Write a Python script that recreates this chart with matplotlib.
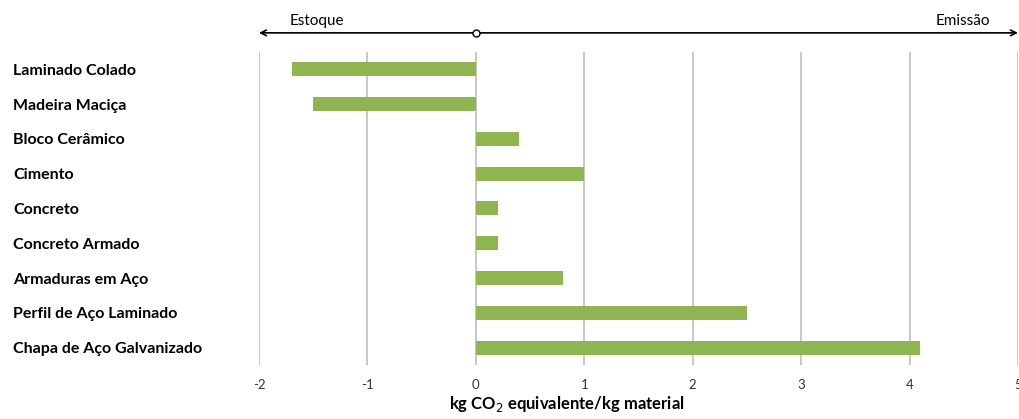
import matplotlib
matplotlib.use("Agg")
import matplotlib.pyplot as plt

plt.rcParams['font.family'] = ['Lato', 'DejaVu Sans']

materials = ["Laminado Colado", "Madeira Maciça", "Bloco Cerâmico", "Cimento",
             "Concreto", "Concreto Armado", "Armaduras em Aço",
             "Perfil de Aço Laminado", "Chapa de Aço Galvanizado"]
values = [-1.7, -1.5, 0.4, 1.0, 0.2, 0.2, 0.8, 2.5, 4.1]
xticks = [-2, -1, 0, 1, 2, 3, 4, 5]

fig = plt.figure(figsize=(10.2, 4.19), dpi=100)
ax = fig.add_axes([0.2539, 0.129, 0.7441, 0.747])

pos = list(range(len(materials)))
ax.barh(pos, values, height=0.4, color="#8EB550", zorder=3)

ax.set_xlim(-2, 5)
ax.set_ylim(8.5, -0.5)
ax.set_xticks(xticks)
ax.set_xticklabels([str(t) for t in xticks], fontsize=9.5, color="#333333")
ax.set_yticks(pos)
ax.set_yticklabels(materials, fontsize=11.5, fontweight="bold", ha="left")
ax.tick_params(axis="y", length=0, pad=177)
ax.tick_params(axis="x", length=0, pad=10)
ax.grid(axis="x", color="#c4c4c4", linewidth=1.3, zorder=0)
for s in ax.spines.values():
    s.set_visible(False)

ax.set_xlabel("kg CO$_2$ equivalente/kg material", fontsize=12, fontweight="bold")
ax.xaxis.set_label_coords(0.406, -0.092)

# top arrow Estoque <-> Emissao
tr = ax.get_xaxis_transform()
ax.annotate("", xy=(-2, 1.061), xytext=(5, 1.061), xycoords=tr, textcoords=tr,
            arrowprops=dict(arrowstyle="<->", color="black", lw=1.2,
                            shrinkA=0, shrinkB=0))
ax.plot([0], [1.061], transform=tr, marker="o", markersize=5,
        markerfacecolor="white", markeredgecolor="black", clip_on=False, zorder=5)
ax.text(-1.47, 1.1, "Estoque", transform=tr, ha="center", va="center", fontsize=11)
ax.text(4.49, 1.1, "Emissão", transform=tr, ha="center", va="center", fontsize=11)

fig.savefig("out.png", dpi=100)
